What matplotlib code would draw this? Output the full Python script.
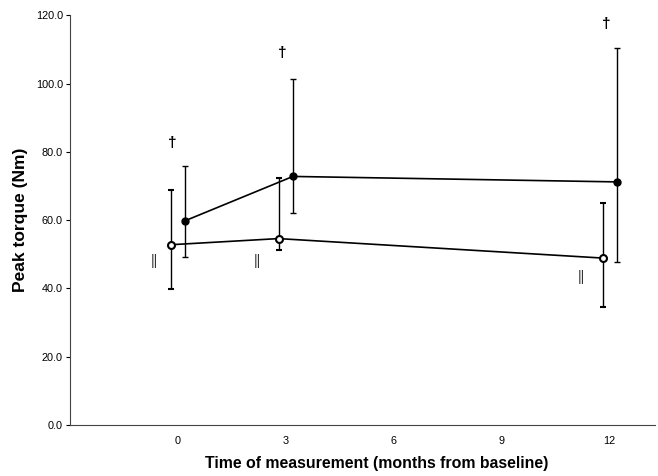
import matplotlib
matplotlib.use("Agg")
import matplotlib.pyplot as plt
import numpy as np

# ====== data ======
months = np.array([0, 3, 12])
offset = 0.2  # the two groups are nudged apart so the error bars don't overlap

upper_mean = [59.8, 72.8, 71.2]
upper_low = [49.3, 62.2, 47.8]
upper_high = [76.0, 101.2, 110.5]

lower_mean = [52.8, 54.6, 48.9]
lower_low = [39.9, 51.3, 34.6]
lower_high = [68.8, 72.2, 65.0]

x_ticks = [0, 3, 6, 9, 12]
y_ticks = [0, 20, 40, 60, 80, 100, 120]

dagger_pos = [(-0.15, 80.5), (2.9, 107.0), (11.9, 115.5)]
bars_pos = [(-0.65, 48.0), (2.2, 48.0), (11.2, 43.5)]

plt.rcParams["font.family"] = ["Liberation Sans", "DejaVu Sans"]

fig = plt.figure(figsize=(6.58, 4.76), dpi=100)
ax = fig.add_axes([0.106, 0.107, 0.889, 0.861])

xu = months + offset
xl = months - offset

ax.errorbar(xu, upper_mean,
            yerr=[np.subtract(upper_mean, upper_low), np.subtract(upper_high, upper_mean)],
            color="black", lw=1.2, elinewidth=1.0, capsize=2.5, capthick=1.0,
            marker="o", ms=5, mfc="black", mec="black", zorder=3)
ax.errorbar(xl, lower_mean,
            yerr=[np.subtract(lower_mean, lower_low), np.subtract(lower_high, lower_mean)],
            color="black", lw=1.2, elinewidth=1.0, capsize=2.5, capthick=1.0,
            marker="o", ms=5, mfc="white", mec="black", mew=1.5, zorder=3)

for x, y in dagger_pos:
    ax.text(x, y, "\u2020", ha="center", va="bottom", fontsize=11, fontweight="bold")
for x, y in bars_pos:
    ax.text(x, y, "||", ha="center", va="center", fontsize=10.5, color="#333333")

ax.set_xlim(-3, 13.25)
ax.set_ylim(0, 120)
ax.set_xticks(x_ticks)
ax.set_xticklabels([str(t) for t in x_ticks], fontsize=7.8)
ax.set_yticks(y_ticks)
ax.set_yticklabels([f"{t:.1f}" for t in y_ticks], fontsize=7.8)
ax.tick_params(axis="x", length=0, pad=8)
ax.tick_params(axis="y", length=3, width=0.8, pad=2)

for side in ["top", "right"]:
    ax.spines[side].set_visible(False)
for side in ["left", "bottom"]:
    ax.spines[side].set_linewidth(0.8)
    ax.spines[side].set_color("#444444")

ax.set_ylabel("Peak torque (Nm)", fontsize=12.5, fontweight="bold")
ax.yaxis.set_label_coords(-0.072, 0.5)
ax.set_xlabel("Time of measurement (months from baseline)", fontsize=11.4,
              fontweight="bold")
ax.xaxis.set_label_coords(0.525, -0.075)

fig.savefig("out.png", dpi=100)
